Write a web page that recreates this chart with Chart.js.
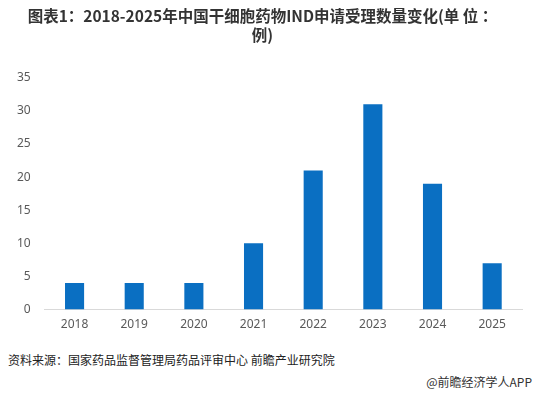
<!DOCTYPE html>
<html>
<head>
<meta charset="utf-8">
<script src="https://cdn.jsdelivr.net/npm/chart.js@4/dist/chart.umd.min.js"></script>
<style>
body { margin: 0; background: #fff; font-family: "Noto Sans CJK SC", sans-serif; }
#wrap { position: relative; width: 536px; height: 395px; }
#box { position: absolute; left: 0; top: 0; width: 536px; height: 340px; }
#source { position: absolute; left: 8px; top: 351px; font-size: 12px; color: #222; }
#mark { position: absolute; right: 4px; top: 373px; font-size: 12px; color: #333; }
</style>
</head>
<body>
<div id="wrap">
  <div id="box"><canvas id="c"></canvas></div>
  <div id="source">资料来源：国家药品监督管理局药品评审中心 前瞻产业研究院</div>
  <div id="mark">@前瞻经济学人APP</div>
</div>
<script>
var years = ['2018', '2019', '2020', '2021', '2022', '2023', '2024', '2025'];
var counts = [4, 4, 4, 10, 21, 31, 19, 7];
var yTicks = [0, 5, 10, 15, 20, 25, 30, 35];
var titleLines = ['图表1：2018-2025年中国干细胞药物IND申请受理数量变化(单 位 ：', '例)'];

var ctx = document.getElementById('c').getContext('2d');
var myBar = new Chart(ctx, {
    type: 'bar',
    data: {
        labels: years,
        datasets: [{
            data: counts,
            backgroundColor: '#0a6fc2',
            barPercentage: 0.32,
            categoryPercentage: 1
        }]
    },
    options: {
        responsive: true,
        maintainAspectRatio: false,
        animation: false,
        layout: { padding: { left: 3, right: 14, top: 0, bottom: 0 } },
        plugins: {
            legend: { display: false },
            tooltip: { enabled: false },
            title: {
                display: true,
                text: titleLines,
                color: '#333',
                font: { size: 15.5, weight: 'bold', family: '"Noto Sans CJK SC", sans-serif', lineHeight: 1.25 },
                padding: { top: 6, bottom: 33 }
            }
        },
        scales: {
            x: {
                grid: { display: false, drawTicks: false },
                border: { color: '#d9d9d9' },
                ticks: { color: '#595959', font: { size: 12, family: '"Noto Sans", sans-serif' }, padding: 8 }
            },
            y: {
                min: 0,
                max: 35,
                afterBuildTicks: function (axis) {
                    axis.ticks = yTicks.map(function (v) { return { value: v }; });
                },
                grid: { display: false, drawTicks: false },
                border: { display: false },
                ticks: { color: '#595959', font: { size: 12, family: '"Noto Sans", sans-serif' }, padding: 14 }
            }
        }
    }
});
</script>
</body>
</html>
